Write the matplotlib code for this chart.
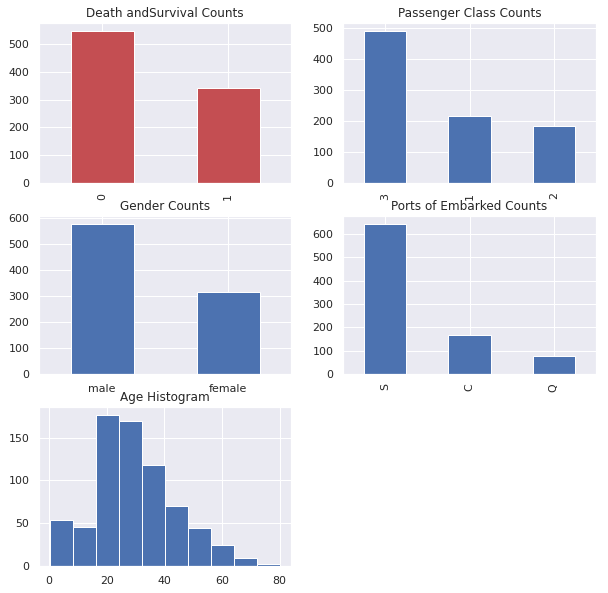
"""Titanic overview counts: 5 panels in a 3x2 grid. Saves out.png."""

import matplotlib
matplotlib.use("Agg")
import matplotlib.pyplot as plt
import seaborn as sns

sns.set_theme(color_codes=True)

# data
survived_labels = ["0", "1"]
survived_counts = [549, 342]

pclass_labels = ["3", "1", "2"]
pclass_counts = [491, 216, 184]

sex_labels = ["male", "female"]
sex_counts = [577, 314]

embarked_labels = ["S", "C", "Q"]
embarked_counts = [644, 168, 77]

age_edges = [0.42, 8.378, 16.336, 24.294, 32.252, 40.21, 48.168, 56.126, 64.084, 72.042, 80.0]
age_counts = [54, 46, 177, 169, 118, 70, 45, 24, 9, 2]

W, H = 608, 593
fig = plt.figure(figsize=(W / 72, H / 72), dpi=72)


def box(x0, y0, x1, y1):
    # pixel box (top-left origin) -> figure fraction
    return [x0 / W, 1 - y1 / H, (x1 - x0) / W, (y1 - y0) / H]


def bar_panel(rect, labels, counts, title, color, rot):
    ax = fig.add_axes(rect)
    pos = list(range(len(labels)))
    ax.bar(pos, counts, width=0.5, color=color)
    ax.set_xticks(pos)
    ax.set_xticklabels(labels, rotation=rot)
    ax.set_xlim(-0.5, len(labels) - 0.5)
    ax.set_ylim(0, max(counts) * 1.05)
    ax.set_title(title)
    return ax


bar_panel(box(39, 23, 291, 183), survived_labels, survived_counts,
          "Death andSurvival Counts", "r", 90)
bar_panel(box(343, 23, 596, 183), pclass_labels, pclass_counts,
          "Passenger Class Counts", "b", 90)
bar_panel(box(39, 216, 291, 374), sex_labels, sex_counts,
          "Gender Counts", "b", 0)
bar_panel(box(343, 216, 596, 374), embarked_labels, embarked_counts,
          "Ports of Embarked Counts", "b", 90)

ax5 = fig.add_axes(box(39, 407, 291, 566))
ax5.hist(age_edges[:-1], bins=age_edges, weights=age_counts, color="b")
ax5.set_title("Age Histogram")

fig.savefig("out.png", dpi=72)
